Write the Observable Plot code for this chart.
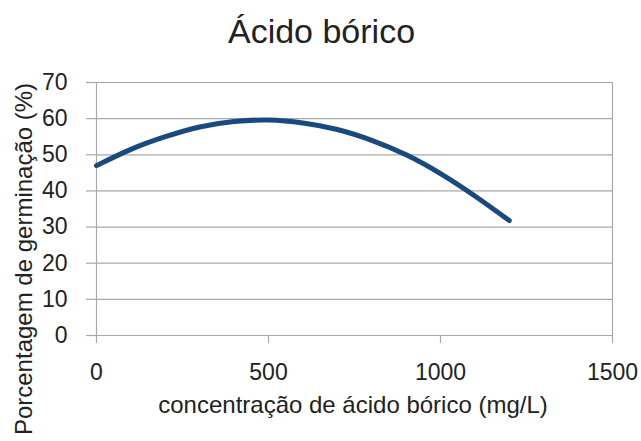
<!DOCTYPE html>
<html>
<head>
<meta charset="utf-8">
<script src="https://cdn.jsdelivr.net/npm/d3@7"></script>
<script src="https://cdn.jsdelivr.net/npm/@observablehq/plot@0.6"></script>
<style>
  html, body { margin: 0; padding: 0; background: #ffffff; }
  #chart { width: 641px; height: 441px; }
</style>
</head>
<body>
<div id="chart"></div>
<script>
// Chart data
const titulo = "Ácido bórico";
const rotuloX = "concentração de ácido bórico (mg/L)";
const rotuloY = "Porcentagem de germinação (%)";
const concentracao = [0, 100, 200, 300, 400, 500, 600, 700, 800, 900, 1000, 1100, 1200];
const germinacao = [47.0, 51.5, 55.0, 57.7, 59.2, 59.6, 58.8, 57.0, 54.0, 50.0, 44.8, 38.6, 31.8];
const xTicks = [0, 500, 1000, 1500];
const yTicks = [0, 10, 20, 30, 40, 50, 60, 70];

const dados = concentracao.map((c, i) => ({c, g: germinacao[i]}));

const font = "'Liberation Sans', Arial, sans-serif";
const gridColor = "#a8a8a8";
const textColor = "#222222";

const chart = Plot.plot({
  width: 641,
  height: 441,
  marginTop: 82,
  marginBottom: 106,
  marginLeft: 96,
  marginRight: 29,
  style: {fontFamily: font, color: textColor, background: "#ffffff", overflow: "visible"},
  x: {domain: [0, 1500]},
  y: {domain: [0, 70]},
  marks: [
    Plot.ruleY(yTicks, {stroke: gridColor, strokeWidth: 1.2}),
    Plot.ruleX([xTicks[0], xTicks[xTicks.length - 1]], {stroke: gridColor, strokeWidth: 1.2}),
    Plot.axisY({ticks: yTicks, tickFormat: d3.format("d"), tickSize: 10, tickPadding: 19, fontSize: 23, stroke: gridColor, strokeWidth: 1.2, label: null, fill: textColor}),
    Plot.axisX({ticks: xTicks, tickFormat: d3.format("d"), tickSize: 8, tickPadding: 20, fontSize: 23, stroke: gridColor, strokeWidth: 1.2, label: null, fill: textColor}),
    Plot.line(dados, {x: "c", y: "g", curve: "natural", stroke: "#1a4a7d", strokeWidth: 5, strokeLinecap: "round"}),
    Plot.text([titulo], {frameAnchor: "top", lineAnchor: "middle", text: d => d, fontSize: 34, dx: -33, dy: -50, fill: textColor}),
    Plot.text([rotuloX], {frameAnchor: "bottom", lineAnchor: "middle", text: d => d, fontSize: 24, dx: -1.5, dy: 70, fill: textColor}),
    Plot.text([rotuloY], {frameAnchor: "left", lineAnchor: "middle", textAnchor: "middle", text: d => d, fontSize: 24, rotate: -90, dx: -72, dy: 50, fill: textColor})
  ]
});
document.getElementById("chart").appendChild(chart);
</script>
</body>
</html>
